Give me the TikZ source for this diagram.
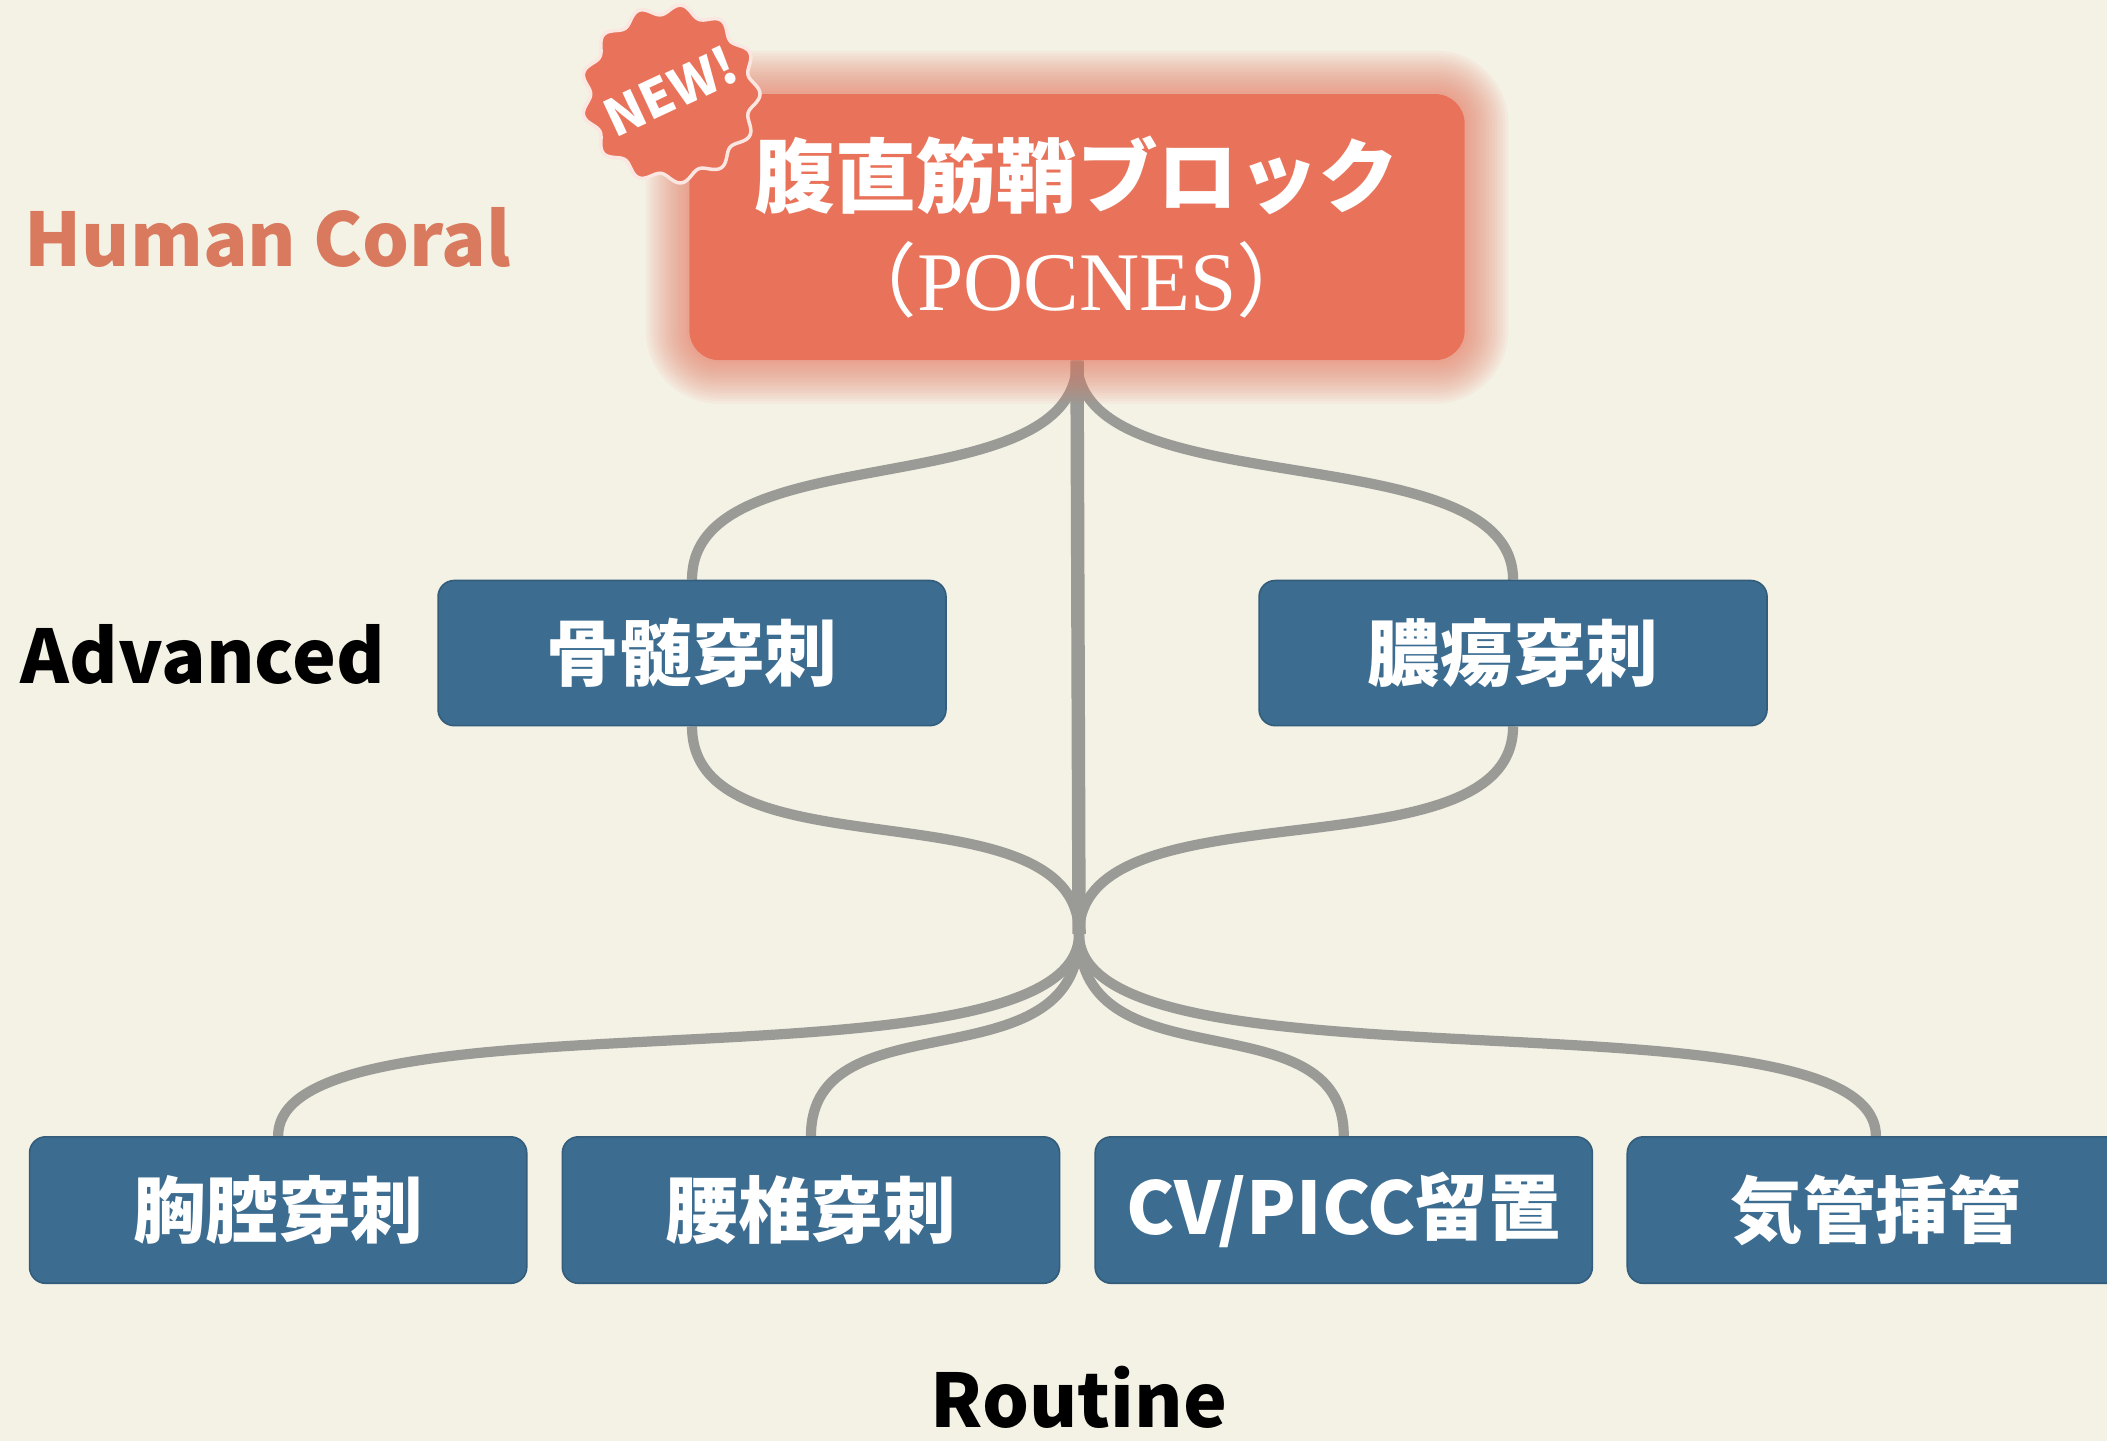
\documentclass[tikz,border=0pt]{standalone}
\usepackage{fontspec}
\setmainfont{Noto Sans}
\newfontfamily\cjk{Noto Sans CJK JP}
\newfontfamily\serifp{Liberation Serif}
\usetikzlibrary{calc}

\definecolor{bg}{HTML}{F4F1E5}
\definecolor{coral}{HTML}{E9735A}
\definecolor{coraltext}{HTML}{D97A5E}
\definecolor{boxblue}{HTML}{3C6D91}
\definecolor{linkgray}{HTML}{9A9A96}

\pgfdeclarelayer{bglayer}
\pgfdeclarelayer{linklayer}
\pgfdeclarelayer{glowlayer}
\pgfsetlayers{bglayer,linklayer,glowlayer,main}

\tikzset{
  blockbox/.style={fill=boxblue, draw=boxblue!85!black, line width=0.6pt,
    rounded corners=6pt, minimum width=189pt, minimum height=54pt, inner sep=0pt,
    text=white, font=\cjk\bfseries\fontsize{27}{30}\selectfont},
  routinebox/.style={blockbox, minimum width=185pt, minimum height=54.5pt},
  link/.style={draw=linkgray, line width=3.8pt},
  trunk/.style={draw=linkgray, line width=5pt},
  tierlabel/.style={font=\cjk\bfseries\fontsize{27.5}{30}\selectfont, inner sep=0pt},
}

\begin{document}
\begin{tikzpicture}[x=0.5pt,y=-0.5pt]
\useasboundingbox (0,0) rectangle (1568,1072);
\begin{pgfonlayer}{bglayer}
  \fill[bg] (0,0) rectangle (1568,1072);
\end{pgfonlayer}

% headline block
\node[fill=coral, rounded corners=11pt, minimum width=288.5pt, minimum height=99pt,
      inner sep=0pt, text=white, align=center,
      font=\cjk\fontsize{30}{38.5}\selectfont] (top) at (801.5,169)
  {{\bfseries 腹直筋鞘ブロック}\\{\cjk （}{\serifp\fontsize{31}{38.5}\selectfont POCNES}{\cjk ）}};

% soft glow round the headline block
\begin{pgfonlayer}{glowlayer}
  \foreach \r in {1,...,16}{
    \fill[coral, opacity=0.05, rounded corners={(11+\r)*1pt}]
      ($(top.south west)+(-\r pt,-\r pt)$) rectangle ($(top.north east)+(\r pt,\r pt)$);
  }
\end{pgfonlayer}

% "NEW!" seal: a scalloped disc
\coordinate (badge) at (499,70);
\filldraw[fill=coral, draw=white!82!coral, line width=1.3pt, shift={(badge)}]
  plot[domain=0:360, samples=241, smooth] (\x:{31.5pt+1.8pt*cos(13*\x)}) -- cycle;
\node[rotate=25, text=white, inner sep=0pt,
      font=\cjk\bfseries\fontsize{19}{21}\selectfont] (newtag) at ($(badge)+(0pt,1pt)$) {NEW!};

% tier boxes
\node[blockbox] (adv1) at (515,486) {骨髄穿刺};
\node[blockbox] (adv2) at (1126,486) {膿瘍穿刺};
\node[routinebox] (r1) at (207,900.5) {胸腔穿刺};
\node[routinebox] (r2) at (603.5,900.5) {腰椎穿刺};
\node[routinebox] (r3) at (1000,900.5) {CV/PICC留置};
\node[routinebox] (r4) at (1396,900.5) {気管挿管};

% labels
\node[tierlabel, text=coraltext, anchor=west] (brand) at (18,177) {Human Coral};
\node[tierlabel, anchor=west] (advanced) at (15,487) {Advanced};
\node[tierlabel] (routine) at (803,1040) {Routine};

% connectors
\coordinate (hub) at (803,695);
\begin{pgfonlayer}{linklayer}
  \draw[trunk] (top.south) -- (hub);
  \draw[link] (top.south) .. controls +(0,110) and +(0,-110) .. (adv1.north);
  \draw[link] (top.south) .. controls +(0,110) and +(0,-110) .. (adv2.north);
  \draw[link] (adv1.south) .. controls +(0,115) and +(0,-115) .. (hub);
  \draw[link] (adv2.south) .. controls +(0,115) and +(0,-115) .. (hub);
  \draw[link] (hub) .. controls +(0,125) and +(0,-115) .. (r1.north);
  \draw[link] (hub) .. controls +(0,115) and +(0,-105) .. (r2.north);
  \draw[link] (hub) .. controls +(0,115) and +(0,-105) .. (r3.north);
  \draw[link] (hub) .. controls +(0,125) and +(0,-115) .. (r4.north);
\end{pgfonlayer}
\end{tikzpicture}
\end{document}
